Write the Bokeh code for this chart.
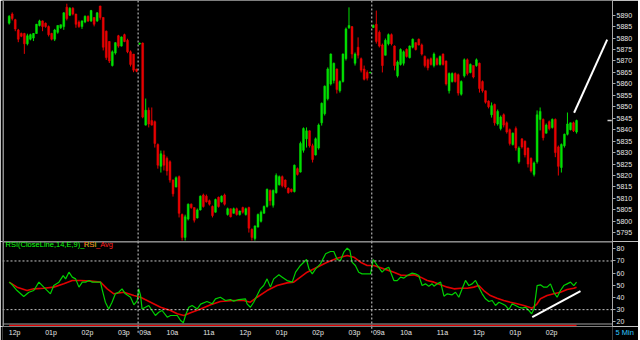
from bokeh.plotting import figure
from bokeh.layouts import column
from bokeh.models import Range1d, FixedTicker, Span, Label, ColumnDataSource
from bokeh.core.properties import value
from bokeh.embed import file_html
from bokeh.resources import INLINE

# ---------------- data (5-min bars, 3 sessions) ----------------
opens = [
 5886.5, 5890.5, 5888.0, 5883.5, 5882.0, 5882.0, 5877.5, 5879.5, 5880.0, 5882.0,
 5885.5, 5887.5, 5886.5, 5885.0, 5882.0, 5879.5, 5882.5, 5884.5, 5885.0, 5893.5,
 5890.0, 5893.0, 5890.5, 5887.0, 5885.0, 5887.0, 5889.5, 5887.5, 5889.0, 5887.5,
 5894.0, 5889.0, 5883.0, 5878.5, 5868.0, 5873.5, 5881.0, 5876.5, 5881.5, 5879.0,
 5874.0, 5873.0, 5866.5,
 5877.4, 5877.8, 5842.0, 5848.5, 5844.0, 5843.5, 5833.5, 5824.0, 5829.0, 5827.5,
 5826.0, 5818.0, 5815.0, 5819.5, 5803.0, 5793.0, 5801.0, 5807.5, 5806.0, 5801.5,
 5805.0, 5811.5, 5811.0, 5809.0, 5806.5, 5804.0, 5810.5, 5808.5, 5811.5, 5803.0,
 5805.5, 5803.5, 5805.5, 5803.0, 5806.0, 5803.0, 5806.0, 5796.5, 5792.5, 5797.5,
 5800.0, 5803.5, 5806.5, 5813.5, 5807.0, 5812.5, 5816.0, 5819.5, 5818.0, 5814.5,
 5814.0, 5813.0, 5823.0, 5821.5, 5831.0, 5836.0, 5839.5, 5833.0, 5829.0, 5832.0,
 5843.0, 5847.0, 5853.5, 5860.0, 5861.5, 5866.5, 5857.0, 5861.0, 5871.0, 5884.5,
 5885.0, 5869.0, 5876.0, 5871.0, 5866.5, 5865.0, 5864.8,
 5884.6, 5886.0, 5882.5, 5877.0, 5872.5, 5877.5, 5881.5, 5876.5, 5863.5, 5868.5,
 5869.0, 5875.0, 5871.5, 5876.0, 5878.0, 5879.5, 5877.0, 5872.0, 5870.5, 5871.0,
 5868.0, 5871.0, 5868.5, 5873.0, 5870.0, 5857.0, 5861.0, 5864.5, 5864.0, 5855.5,
 5863.5, 5870.5, 5865.0, 5868.0, 5868.0, 5869.0, 5861.0, 5857.0, 5852.5, 5846.5,
 5851.0, 5842.5, 5840.5, 5846.5, 5843.0, 5840.0, 5833.5, 5840.5, 5826.0, 5836.0,
 5835.0, 5832.0, 5827.5, 5820.5, 5826.0, 5844.5, 5844.5, 5838.5, 5843.5, 5841.0,
 5844.5, 5832.5, 5823.5, 5833.0, 5838.0, 5840.0, 5843.0, 5839.0,
]
highs = [
 5890.0, 5891.2, 5888.4, 5884.0, 5882.4, 5882.3, 5881.9, 5881.9, 5882.2, 5886.2,
 5888.0, 5887.7, 5886.8, 5885.5, 5882.3, 5884.0, 5885.6, 5885.9, 5891.3, 5895.0,
 5893.5, 5893.5, 5890.6, 5887.7, 5887.7, 5889.9, 5889.9, 5892.3, 5889.1, 5891.3,
 5894.1, 5889.1, 5883.3, 5878.7, 5874.6, 5878.2, 5881.4, 5880.7, 5881.9, 5879.7,
 5874.6, 5873.1, 5866.6,
 5878.0, 5878.1, 5853.6, 5849.7, 5849.7, 5844.0, 5834.0, 5830.9, 5830.9, 5828.3,
 5826.6, 5818.3, 5819.6, 5820.0, 5803.4, 5802.9, 5807.8, 5807.8, 5806.0, 5805.6,
 5811.3, 5812.1, 5811.7, 5809.5, 5806.9, 5809.9, 5810.8, 5811.3, 5812.1, 5806.0,
 5805.6, 5806.0, 5806.0, 5804.7, 5806.4, 5806.0, 5806.4, 5796.9, 5798.2, 5803.4,
 5804.7, 5806.9, 5814.3, 5813.9, 5813.9, 5820.9, 5820.0, 5820.0, 5818.3, 5814.8,
 5814.3, 5824.8, 5823.5, 5834.8, 5841.0, 5841.0, 5839.7, 5833.9, 5836.6, 5842.7,
 5851.9, 5859.3, 5867.2, 5873.3, 5869.3, 5866.7, 5861.5, 5873.3, 5884.6, 5893.4,
 5885.1, 5873.7, 5880.3, 5871.5, 5868.0, 5865.9, 5865.3,
 5885.9, 5892.0, 5883.3, 5877.6, 5879.8, 5882.0, 5882.0, 5876.8, 5870.2, 5875.5,
 5874.6, 5875.5, 5876.8, 5879.8, 5878.1, 5879.8, 5877.6, 5872.4, 5871.1, 5871.5,
 5873.7, 5871.5, 5872.4, 5873.3, 5870.2, 5865.0, 5865.0, 5865.0, 5864.5, 5861.5,
 5871.1, 5871.1, 5868.9, 5868.0, 5871.1, 5869.3, 5861.5, 5857.1, 5852.8, 5851.9,
 5851.4, 5848.8, 5846.2, 5847.1, 5843.6, 5840.5, 5838.8, 5841.4, 5832.7, 5836.2,
 5835.3, 5832.2, 5827.9, 5826.1, 5848.4, 5849.7, 5844.9, 5842.7, 5844.0, 5844.9,
 5844.9, 5833.1, 5834.0, 5838.3, 5847.5, 5843.1, 5843.5, 5844.4,
]
lows = [
 5885.9, 5887.7, 5883.0, 5878.2, 5880.4, 5873.1, 5876.8, 5879.0, 5878.7, 5881.9,
 5885.1, 5883.0, 5884.5, 5880.7, 5879.0, 5878.7, 5881.9, 5884.0, 5883.6, 5887.7,
 5889.6, 5889.9, 5884.5, 5884.5, 5884.0, 5886.5, 5887.0, 5887.0, 5885.1, 5887.0,
 5888.0, 5874.6, 5870.5, 5869.1, 5867.6, 5872.8, 5875.8, 5876.3, 5878.2, 5873.4,
 5867.6, 5865.1, 5865.1,
 5877.0, 5845.0, 5841.8, 5841.0, 5841.8, 5832.2, 5823.0, 5821.3, 5822.2, 5820.0,
 5816.9, 5810.8, 5814.8, 5801.7, 5791.6, 5791.6, 5800.4, 5805.5, 5799.5, 5801.2,
 5804.7, 5806.0, 5808.2, 5806.9, 5801.7, 5803.8, 5806.0, 5808.2, 5806.9, 5802.5,
 5801.7, 5803.4, 5802.5, 5802.5, 5803.4, 5802.5, 5795.1, 5791.6, 5791.6, 5797.3,
 5799.5, 5803.4, 5806.0, 5806.9, 5806.0, 5812.1, 5815.6, 5814.8, 5814.3, 5812.1,
 5812.6, 5812.6, 5820.0, 5821.3, 5830.0, 5832.2, 5832.2, 5825.7, 5828.7, 5831.3,
 5841.8, 5846.2, 5852.8, 5859.3, 5860.2, 5855.8, 5856.2, 5860.6, 5870.2, 5884.0,
 5871.1, 5868.0, 5871.1, 5865.0, 5861.5, 5861.5, 5864.6,
 5884.4, 5877.6, 5875.9, 5865.0, 5872.4, 5876.8, 5876.8, 5865.9, 5862.8, 5868.0,
 5868.0, 5871.5, 5871.1, 5875.5, 5874.6, 5876.8, 5872.4, 5867.2, 5865.9, 5868.0,
 5867.2, 5868.0, 5868.0, 5868.0, 5859.3, 5855.8, 5860.6, 5860.6, 5854.9, 5854.9,
 5862.8, 5863.7, 5864.6, 5862.4, 5867.5, 5856.2, 5856.2, 5851.4, 5849.3, 5845.3,
 5841.8, 5841.8, 5839.7, 5841.0, 5838.3, 5833.1, 5833.1, 5830.9, 5825.2, 5831.8,
 5827.9, 5823.5, 5821.3, 5819.6, 5825.2, 5839.7, 5835.3, 5838.3, 5839.7, 5840.5,
 5828.0, 5820.0, 5821.3, 5832.2, 5837.5, 5839.7, 5839.0, 5838.3,
]
closes = [
 5889.5, 5888.5, 5884.0, 5879.5, 5880.8, 5877.5, 5881.0, 5881.5, 5882.0, 5886.0,
 5887.5, 5885.0, 5885.0, 5881.5, 5879.5, 5883.5, 5885.5, 5885.8, 5891.0, 5888.5,
 5893.0, 5890.5, 5886.0, 5885.0, 5887.5, 5889.5, 5887.5, 5892.0, 5886.0, 5891.0,
 5889.0, 5876.0, 5871.5, 5870.0, 5874.0, 5878.0, 5876.5, 5880.5, 5878.5, 5874.0,
 5868.5, 5866.0, 5865.5,
 5877.8, 5845.5, 5848.5, 5842.5, 5842.0, 5834.0, 5824.5, 5829.5, 5824.5, 5822.0,
 5818.0, 5812.0, 5819.0, 5803.5, 5793.0, 5802.0, 5807.5, 5806.0, 5800.5, 5805.0,
 5811.0, 5806.5, 5808.5, 5807.5, 5802.5, 5809.5, 5806.5, 5811.0, 5807.5, 5805.5,
 5802.0, 5805.5, 5803.0, 5804.5, 5804.0, 5805.5, 5797.0, 5793.0, 5798.0, 5803.0,
 5804.0, 5806.5, 5814.0, 5809.0, 5813.5, 5820.0, 5819.5, 5815.5, 5815.0, 5812.5,
 5813.0, 5824.5, 5820.5, 5834.0, 5840.5, 5839.5, 5833.0, 5827.0, 5836.0, 5842.0,
 5851.5, 5859.0, 5866.5, 5873.0, 5869.0, 5857.5, 5861.0, 5873.0, 5884.0, 5885.5,
 5873.0, 5873.0, 5872.5, 5866.0, 5862.0, 5862.5, 5865.0,
 5885.5, 5878.5, 5876.5, 5868.0, 5879.0, 5881.5, 5877.5, 5868.0, 5869.5, 5875.0,
 5874.0, 5872.0, 5876.5, 5879.5, 5875.0, 5877.0, 5873.0, 5868.0, 5867.0, 5868.5,
 5873.0, 5868.5, 5872.0, 5868.5, 5860.0, 5864.5, 5864.5, 5861.0, 5856.0, 5861.0,
 5870.5, 5864.5, 5868.5, 5863.0, 5870.5, 5858.0, 5857.0, 5852.0, 5850.0, 5850.5,
 5843.0, 5848.0, 5845.5, 5842.0, 5839.0, 5834.0, 5838.5, 5832.0, 5832.0, 5832.5,
 5829.0, 5825.0, 5822.0, 5825.5, 5846.5, 5848.0, 5836.5, 5842.0, 5840.5, 5844.5,
 5830.0, 5824.0, 5833.5, 5838.0, 5842.5, 5843.0, 5839.5, 5844.0,
]

# RSI(14) line and its average, read as vertices at bar positions
rsi_x = [0, 1.0, 2.6, 4.8, 6.5, 8.1, 9.8, 11.4, 13.6, 14.7,
 16.4, 17.8, 18.6, 19.7, 20.8, 21.9, 23.0, 24.1, 25.2, 26.3,
 27.4, 29.0, 30.1, 30.6, 31.7, 32.8, 33.9, 35.0, 36.1, 37.2,
 38.3, 40.0, 41.1, 42.2, 42.7, 43.3, 43.8, 44.9, 46.0, 47.1,
 48.2, 49.3, 50.4, 52.1, 53.2, 54.3, 55.4, 56.5, 57.4, 58.1,
 59.2, 60.3, 62.0, 63.1, 65.2, 66.9, 68.0, 69.6, 71.3, 72.9,
 74.0, 75.7, 77.9, 78.4, 79.5, 80.6, 81.7, 82.8, 83.9, 85.0,
 86.1, 87.2, 88.9, 90.0, 91.6, 93.3, 94.4, 96.0, 98.0, 98.8,
 99.9, 101.0, 102.6, 104.3, 105.9, 107.0, 108.1, 109.2, 110.3, 111.4,
 112.3, 113.0, 114.1, 115.2, 116.3, 118.0, 119.1, 120.0, 121.3, 122.9,
 124.0, 125.1, 126.8, 127.9, 129.0, 130.1, 131.2, 132.8, 133.9, 135.0,
 136.1, 137.2, 138.3, 139.4, 140.0, 141.1, 142.2, 143.3, 144.4, 146.0,
 147.1, 148.2, 149.3, 150.4, 151.5, 152.6, 153.7, 154.8, 155.9, 157.0,
 158.1, 159.2, 160.3, 161.4, 162.5, 163.6, 164.7, 165.8, 166.9, 168.0,
 169.1, 170.2, 171.3, 172.2, 173.0, 174.0, 175.1, 176.2, 177.3, 178.4,
 179.5, 180.6, 181.7, 182.8, 183.9, 185.0, 186.1, 187.0]
rsi_val = [52.6, 50.4, 45.7, 40.8, 44.3, 45.7, 52.6, 48.5, 43.0, 49.8,
 52.6, 58.0, 55.3, 60.8, 56.7, 55.3, 48.5, 52.6, 52.6, 53.9,
 52.6, 52.6, 52.6, 47.1, 36.1, 30.6, 36.1, 43.0, 44.3, 47.1,
 43.0, 40.2, 34.0, 37.5, 47.1, 41.6, 30.6, 32.0, 33.4, 29.3,
 25.2, 27.9, 29.3, 23.8, 25.2, 25.2, 25.2, 21.1, 19.2, 25.2,
 32.0, 33.4, 30.6, 34.5, 36.7, 34.8, 38.9, 40.2, 37.5, 38.3,
 37.0, 38.3, 38.9, 34.8, 32.0, 36.1, 41.6, 47.1, 49.8, 55.3,
 48.5, 55.3, 58.6, 56.7, 53.9, 52.6, 60.8, 66.3, 71.2, 63.5,
 59.4, 63.5, 67.6, 75.9, 77.8, 77.8, 71.2, 70.4, 77.2, 80.5,
 78.6, 69.0, 66.3, 60.8, 59.4, 59.4, 59.4, 71.2, 66.3, 60.8,
 63.5, 64.9, 53.9, 53.9, 56.7, 55.9, 58.1, 60.0, 59.4, 58.1,
 49.8, 51.2, 49.3, 51.2, 49.3, 51.2, 52.6, 41.1, 43.0, 42.2,
 44.3, 40.2, 47.1, 54.0, 49.8, 51.2, 54.0, 48.5, 43.0, 38.9,
 36.7, 37.5, 33.4, 36.1, 34.8, 33.4, 30.1, 34.8, 33.4, 32.0,
 31.2, 32.0, 29.3, 26.6, 30.7, 49.8, 50.4, 48.5, 48.5, 51.2,
 44.3, 40.2, 45.7, 49.8, 51.2, 52.6, 49.8, 52.6]
avg_x = [0, 2.6, 5.9, 8.1, 11.4, 14.7, 18.0, 20.8, 23.5, 26.8,
 30.1, 32.3, 34.5, 37.8, 41.1, 43.3, 46.6, 49.9, 53.2, 55.4,
 57.6, 59.8, 63.1, 66.4, 69.6, 74.0, 77.3, 79.5, 81.7, 85.0,
 88.3, 91.6, 93.8, 96.0, 98.2, 101.5, 104.8, 108.1, 111.4, 113.6,
 115.8, 118.0, 120.2, 123.5, 126.8, 129.0, 131.2, 133.4, 135.6, 137.8,
 140.0, 142.2, 144.4, 146.6, 148.8, 151.0, 153.1, 154.8, 156.4, 158.6,
 160.8, 163.0, 165.2, 167.4, 169.6, 172.4, 174.0, 175.1, 177.3, 179.5,
 181.7, 183.9, 186.1, 187.0]
avg_val = [52.6, 48.5, 45.7, 47.1, 47.6, 48.5, 51.2, 53.9, 53.9, 53.4,
 52.6, 47.1, 43.0, 44.3, 41.6, 40.2, 36.1, 32.0, 29.3, 26.6,
 25.2, 27.4, 30.6, 34.0, 36.7, 37.5, 37.5, 36.1, 40.2, 45.7,
 49.8, 52.0, 52.6, 56.7, 60.8, 64.9, 69.0, 72.3, 74.5, 73.1,
 69.0, 66.3, 66.3, 63.5, 60.8, 58.4, 58.1, 58.6, 56.7, 54.0,
 52.6, 50.4, 48.5, 47.1, 47.6, 47.6, 48.5, 49.8, 45.7, 41.6,
 39.4, 37.5, 36.1, 34.8, 33.4, 31.2, 34.8, 38.9, 41.6, 43.0,
 44.3, 46.6, 47.6, 48.5]

price_ticks = list(range(5795, 5891, 5))
rsi_ticks = [20, 30, 40, 50, 60, 70, 80]
rsi_levels = [70, 30]
time_tick_bars = [0, 12, 24, 36, 43, 52, 64, 76, 88, 100, 112, 120, 129, 141, 153, 165, 177]
time_tick_labels = ["12p", "01p", "02p", "03p", "09a", "10a", "11a", "12p", "01p",
                    "02p", "03p", "09a", "10a", "11a", "12p", "01p", "02p"]
interval_label = "5 Min"
day_breaks = [42.5, 119.5]
price_trend_x = [186.2, 197.1]
price_trend_y = [5847.4, 5879.3]
rsi_trend_x = [172.4, 188.3]
rsi_trend_y = [23.8, 45.2]

# ---------------- styling ----------------
BG = "#000000"
GREEN = "#00e000"
RED = "#e80000"
AXIS = "#a8a8a8"
TXT = "#e6e6e6"
FONT = "Liberation Sans"
X_RANGE = Range1d(-2.2, 198.85)        # bar-index range of the plot frames (px 2..612)
LEFT_EDGE = -1.9
LABEL_SHIFT = 1.8
STRIP_ROW = 0.5625                     # vertical position of the time-label row in the strip

n = len(closes)
assert len(opens) == len(highs) == len(lows) == n
idx = list(range(n))
cols = [GREEN if c >= o else RED for o, c in zip(opens, closes)]
src = ColumnDataSource(dict(
    x=idx, h=highs, l=lows,
    top=[max(o, c) for o, c in zip(opens, closes)],
    bot=[min(o, c) for o, c in zip(opens, closes)],
    col=cols))


def style_axis(ax, ticks):
    ax.ticker = FixedTicker(ticks=ticks)
    ax.axis_line_color = AXIS
    ax.major_tick_line_color = AXIS
    ax.major_tick_out = 3
    ax.major_tick_in = 0
    ax.minor_tick_line_color = None
    ax.minor_tick_out = 0
    ax.minor_tick_in = 0
    ax.major_label_text_color = TXT
    ax.major_label_text_font = FONT
    ax.major_label_text_font_size = "7px"
    ax.major_label_standoff = 1


def base_fig(h, yr, xr=X_RANGE):
    f = figure(width=638, height=h, x_range=xr, y_range=yr,
               x_axis_location=None, y_axis_location="right", output_backend="svg",
               toolbar_location=None, min_border_left=2, min_border_right=26,
               min_border_top=0, min_border_bottom=0, background_fill_color=BG,
               border_fill_color=BG, outline_line_color=None)
    f.grid.visible = False
    return f


# ---------------- price panel ----------------
p = base_fig(241, Range1d(5791.2, 5896.4))
style_axis(p.yaxis[0], price_ticks)

p.segment("x", "h", "x", "l", color="col", line_width=1, source=src)
p.vbar(x="x", width=0.62, top="top", bottom="bot", fill_color="col",
       line_color="col", line_width=0.5, source=src)

for b in day_breaks:
    p.add_layout(Span(location=b, dimension="height", line_color="#b4b4b4",
                      line_dash="2 2", line_width=1.2))
p.add_layout(Span(location=LEFT_EDGE, dimension="height", line_color="#9a9a9a", line_width=1))
p.line(price_trend_x, price_trend_y, line_color="white", line_width=2)
p.segment(x0=[197.2], y0=[closes[-1]], x1=[198.6], y1=[closes[-1]],
          line_color="#cfcfcf", line_width=1.5)

# ---------------- RSI panel ----------------
r = base_fig(85, Range1d(16.15, 86.0))
style_axis(r.yaxis[0], rsi_ticks)

r.add_layout(Span(location=85.6, dimension="width", line_color="#a0a0a0", line_width=1))
r.add_layout(Span(location=18.2, dimension="width", line_color="#a0a0a0", line_width=1))
for lv in rsi_levels:
    r.add_layout(Span(location=lv, dimension="width", line_color="#c8c8c8",
                      line_dash="2 2", line_width=1))
for b in day_breaks:
    r.add_layout(Span(location=b, dimension="height", line_color="#b4b4b4",
                      line_dash="2 2", line_width=1.2))
r.add_layout(Span(location=LEFT_EDGE, dimension="height", line_color="#9a9a9a", line_width=1))
r.line([idx[0], idx[-1]], [16.9, 16.9], line_color="#e00000", line_width=1.5)

r.line(avg_x, avg_val, line_color="#e00000", line_width=1.6)
r.line(rsi_x, rsi_val, line_color="#00d000", line_width=1.2)
r.line(rsi_trend_x, rsi_trend_y, line_color="white", line_width=2)

r.add_layout(Label(x=-1.2, y=83.6, text="RSI(CloseLine,14,E,9)_RSI", text_color="#10ff10",
                   text_font=FONT, text_font_size="7.5px", text_baseline="middle"))
r.add_layout(Label(x=24.5, y=83.6, text="RSI_Avg", text_color="#ff2020",
                   text_font=FONT, text_font_size="7.5px", text_baseline="middle"))

# ---------------- time-label strip (same bar scale) ----------------
s = base_fig(14, Range1d(0, 1))
sa = s.yaxis[0]
sa.ticker = FixedTicker(ticks=[STRIP_ROW])
sa.major_label_overrides = {STRIP_ROW: interval_label}
sa.axis_line_color = None
sa.major_tick_line_color = None
sa.minor_tick_line_color = None
sa.major_tick_out = 0
sa.major_tick_in = 0
sa.minor_tick_out = 0
sa.minor_tick_in = 0
sa.major_label_standoff = 3
sa.major_label_text_color = "#30c8ff"
sa.major_label_text_font = FONT
sa.major_label_text_font_size = "7.5px"

for b in day_breaks:
    s.segment(x0=[b], y0=[0.55], x1=[b], y1=[1.0], line_color="#b4b4b4",
              line_dash="2 2", line_width=1.2)
s.text(x=[b + LABEL_SHIFT for b in time_tick_bars], y=[STRIP_ROW] * len(time_tick_bars),
       text=time_tick_labels, text_color=TXT, text_font=value(FONT),
       text_font_size=value("7px"), text_align="center", text_baseline="middle")

layout = column(p, r, s, spacing=0)
open("out.html", "w").write(file_html(layout, INLINE, title="chart"))
